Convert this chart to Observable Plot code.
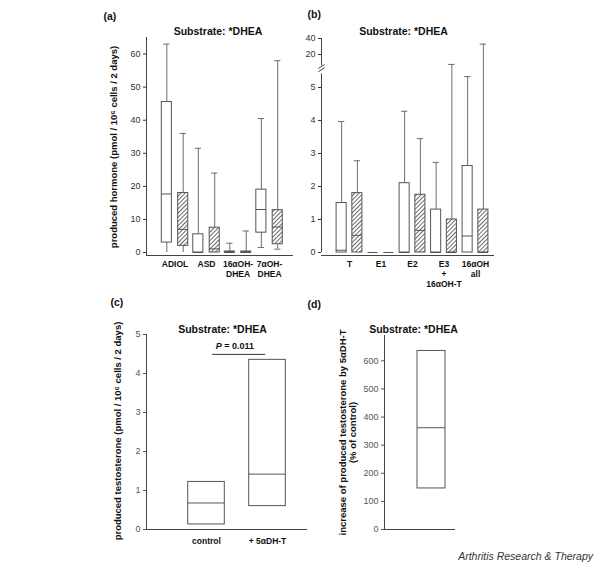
<!DOCTYPE html>
<html><head><meta charset="utf-8">
<script src="https://cdn.jsdelivr.net/npm/d3@7"></script>
<script src="https://cdn.jsdelivr.net/npm/@observablehq/plot@0.6"></script>
<style>
body{margin:0;background:#fff}
#wrap{position:relative;width:600px;height:567px;overflow:hidden;font-family:"Liberation Sans",Arial,sans-serif}
#wrap svg{position:absolute;left:0;top:0}
#cap{position:absolute;right:7px;top:550px;font-style:italic;font-size:10.5px;color:#333}
</style></head><body>
<div id="wrap"><div id="cap">Arthritis Research &amp; Therapy</div></div>
<script>
// ---------- data ----------
// Panel (a): substrate *DHEA, produced hormones
const aGroups = ["ADIOL", "ASD", "16αOH-\nDHEA", "7αOH-\nDHEA"];
const aOpenLow  = [0, 0, 0, 1.5];
const aOpenQ1   = [3, 0, 0, 6];
const aOpenMed  = [17.7, 0, 0, 13];
const aOpenQ3   = [45.5, 5.5, 0.3, 19];
const aOpenHigh = [63, 31.5, 2.8, 40.5];
const aHatchLow  = [0, 0, 0, 1];
const aHatchQ1   = [2, 0, 0, 2.5];
const aHatchMed  = [7, 1.1, 0, 7.7];
const aHatchQ3   = [18, 7.5, 0.3, 12.8];
const aHatchHigh = [36, 24, 6.5, 58];
const aTicks = [0, 10, 20, 30, 40, 50, 60];

// Panel (b)
const bGroups = ["T", "E1", "E2", "E3\n+\n16αOH-T", "16αOH\nall"];
const bOpenLow  = [0, 0, 0, 0, 0];
const bOpenQ1   = [0, 0, 0, 0, 0];
const bOpenMed  = [0.07, 0, 0, 0, 0.5];
const bOpenQ3   = [1.5, 0, 2.1, 1.3, 2.62];
const bOpenHigh = [3.97, 0, 4.28, 2.73, 5.33];
const bHatchLow  = [0, 0, 0, 0, 0];
const bHatchQ1   = [0, 0, 0, 0, 0];
const bHatchMed  = [0.52, 0, 0.67, 0, 0];
const bHatchQ3   = [1.8, 0, 1.75, 1.0, 1.3];
const bHatchHigh = [2.78, 0, 3.45, 7.6, 33];
const bTicks = [0, 1, 2, 3, 4, 5, 20, 40];

// Panel (c)
const cGroups = ["control", "+ 5αDH-T"];
const cQ1  = [0.13, 0.6];
const cMed = [0.68, 1.42];
const cQ3  = [1.22, 4.35];
const cTicks = [0, 1, 2, 3, 4, 5];
const cPValue = "0.011";
const cBracketLevel = 4.49;

// Panel (d)
const dGroups = [""];
const dQ1  = [146];
const dMed = [362];
const dQ3  = [635];
const dTicks = [0, 100, 200, 300, 400, 500, 600];

const title = "Substrate: *DHEA";

// ---------- helpers ----------
const FONT = '"Liberation Sans", Arial, sans-serif';
const HATCH_SENTINEL = "#fefefe";
const BOX = "#555", WHISK = "#6e6e6e";
const wrap = document.getElementById("wrap");
const intFmt = d => String(d);

function boxRows(groups, sets) {
  return groups.flatMap((g, i) => sets.map(s => ({
    group: g, i, kind: s.kind, pos: i + s.offset,
    low: s.low ? s.low[i] : s.q1[i], q1: s.q1[i], med: s.med[i], q3: s.q3[i],
    high: s.high ? s.high[i] : s.q3[i]
  })));
}
function boxMarks(data, hw, cap, t = v => v) {
  return [
    Plot.ruleX(data.filter(d => d.high > d.q3), {x: "pos", y1: d => t(d.q3), y2: d => t(d.high), stroke: WHISK}),
    Plot.ruleY(data.filter(d => d.high > d.q3), {y: d => t(d.high), x1: d => d.pos - cap, x2: d => d.pos + cap, stroke: WHISK}),
    Plot.ruleX(data.filter(d => d.low < d.q1), {x: "pos", y1: d => t(d.low), y2: d => t(d.q1), stroke: WHISK}),
    Plot.ruleY(data.filter(d => d.low < d.q1 && d.low > 0), {y: d => t(d.low), x1: d => d.pos - cap, x2: d => d.pos + cap, stroke: WHISK}),
    Plot.rect(data.filter(d => d.q3 > d.q1 && d.kind === "open"), {x1: d => d.pos - hw, x2: d => d.pos + hw, y1: d => t(d.q1), y2: d => t(d.q3), fill: "white", stroke: BOX}),
    Plot.rect(data.filter(d => d.q3 > d.q1 && d.kind === "hatched"), {x1: d => d.pos - hw, x2: d => d.pos + hw, y1: d => t(d.q1), y2: d => t(d.q3), fill: HATCH_SENTINEL, stroke: BOX}),
    Plot.ruleY(data, {y: d => t(d.med), x1: d => d.pos - hw, x2: d => d.pos + hw, stroke: BOX})
  ];
}
function addHatch(svg, id) {
  const ns = "http://www.w3.org/2000/svg";
  const defs = document.createElementNS(ns, "defs");
  defs.innerHTML = `<pattern id="${id}" patternUnits="userSpaceOnUse" width="3" height="3" patternTransform="rotate(45)"><rect width="3" height="3" fill="white"/><line x1="0.5" y1="0" x2="0.5" y2="3" stroke="#6a6a6a" stroke-width="1"/></pattern>`;
  svg.insertBefore(defs, svg.firstChild);
  svg.querySelectorAll(`[fill="${HATCH_SENTINEL}"]`).forEach(el => el.setAttribute("fill", `url(#${id})`));
}
function panel(opts, color = "#333") {
  const svg = Plot.plot({
    width: 600, height: 567,
    style: {background: "transparent", fontFamily: FONT, fontSize: "9px", color, overflow: "visible", position: "absolute", left: "0px", top: "0px"},
    ...opts
  });
  wrap.appendChild(svg);
  return svg;
}
const txt = (s, o) => Plot.text([s], {text: d => d, fill: "#111", ...o});
const ylab = (s, o) => txt(s, {frameAnchor: "left", rotate: -90, textAnchor: "middle", fontWeight: "bold", fontSize: 9.5, ...o});

// ---------- panel (a) ----------
const aData = boxRows(aGroups, [
  {kind: "open", offset: -0.26, low: aOpenLow, q1: aOpenQ1, med: aOpenMed, q3: aOpenQ3, high: aOpenHigh},
  {kind: "hatched", offset: 0.26, low: aHatchLow, q1: aHatchQ1, med: aHatchMed, q3: aHatchQ3, high: aHatchHigh}
]);
const aSvg = panel({
  marginLeft: 146, marginRight: 307, marginTop: 37, marginBottom: 315,
  x: {domain: [-0.905, 3.76], axis: null},
  y: {domain: [0, 65], ticks: aTicks, tickFormat: intFmt, tickSize: 3, tickPadding: 3, label: null},
  marks: [
    ...boxMarks(aData, 0.16, 0.1),
    Plot.ruleY([0], {dy: 3, stroke: "#444"}),
    Plot.ruleX([-0.905], {insetBottom: -3, stroke: "#444"}),
    Plot.text(aGroups, {x: (d, i) => i, y: 0, text: d => d, dy: 8, lineAnchor: "top", lineHeight: 1.15, fontWeight: "bold", fontSize: 8.5, fill: "#111"}),
    txt(title, {frameAnchor: "top", dx: -2, dy: -10, fontWeight: "bold", fontSize: 10.5}),
    txt("(a)", {frameAnchor: "top-left", dx: -43, dy: -25, textAnchor: "start", fontWeight: "bold", fontSize: 10.5}),
    ylab("produced hormone (pmol / 10⁶ cells / 2 days)", {dx: -33, dy: 2})
  ]
});
addHatch(aSvg, "hatchA");

// ---------- panel (b) ----------
const bBreak = 5.5;
const bF = v => v <= bBreak ? v : 6.0 + (v - 20) * 0.02425; // broken axis: lower linear part, compressed upper part
const bTickMap = new Map(bTicks.map(v => [bF(v), v]));
const bData = boxRows(bGroups, [
  {kind: "open", offset: -0.25, low: bOpenLow, q1: bOpenQ1, med: bOpenMed, q3: bOpenQ3, high: bOpenHigh},
  {kind: "hatched", offset: 0.25, low: bHatchLow, q1: bHatchQ1, med: bHatchMed, q3: bHatchQ3, high: bHatchHigh}
]);
const bX0 = -0.889, bTop = bF(40);
const bSvg = panel({
  marginLeft: 321, marginRight: 106, marginTop: 38, marginBottom: 315,
  x: {domain: [bX0, 4.603], axis: null},
  y: {domain: [0, bTop], ticks: bTicks.map(bF), tickFormat: d => String(bTickMap.get(d)), tickSize: 3, tickPadding: 3, label: null},
  marks: [
    ...boxMarks(bData, 0.16, 0.1, bF),
    Plot.ruleY([0], {dy: 3, stroke: "#444"}),
    Plot.ruleX([{y1: 0, y2: 5.5}], {x: bX0, y1: "y1", y2: "y2", insetBottom: -3, stroke: "#444"}),
    Plot.ruleX([{y1: 5.66, y2: bTop}], {x: bX0, y1: "y1", y2: "y2", stroke: "#444"}),
    Plot.link([0, 1], {x1: bX0 - 0.1, x2: bX0 + 0.1, y1: i => 5.48 + i * 0.1, y2: i => 5.6 + i * 0.1, stroke: "#444"}),
    Plot.text(bGroups, {x: (d, i) => i, y: 0, text: d => d, dy: 8, lineAnchor: "top", lineHeight: 1.15, fontWeight: "bold", fontSize: 8.5, fill: "#111"}),
    txt(title, {frameAnchor: "top", dx: -4.5, dy: -11, fontWeight: "bold", fontSize: 10.5}),
    txt("(b)", {frameAnchor: "top-left", dx: -14, dy: -28, textAnchor: "start", fontWeight: "bold", fontSize: 10.5})
  ]
});
addHatch(bSvg, "hatchB");

// ---------- panel (c) ----------
const cData = boxRows(cGroups, [{kind: "open", offset: 0, q1: cQ1, med: cMed, q3: cQ3}]);
panel({
  marginLeft: 146, marginRight: 293, marginTop: 334, marginBottom: 38,
  x: {domain: [-0.984, 1.656], axis: null},
  y: {domain: [0, 5], ticks: cTicks, tickFormat: intFmt, tickSize: 3, tickPadding: 3, label: null},
  marks: [
    ...boxMarks(cData, 0.3, 0.1),
    Plot.ruleY([0], {stroke: "#444"}),
    Plot.ruleX([-0.984], {stroke: "#444"}),
    Plot.ruleY([cBracketLevel], {x1: 0.1, x2: 0.97, stroke: "#333"}),
    Plot.text(["P"], {x: 0.25, y: cBracketLevel, text: d => d, dy: -8, textAnchor: "end", fontWeight: "bold", fontStyle: "italic", fontSize: 9, fill: "#111"}),
    Plot.text([" = " + cPValue], {x: 0.25, y: cBracketLevel, text: d => d, dy: -8, textAnchor: "start", fontWeight: "bold", fontSize: 9, fill: "#111"}),
    Plot.text(cGroups, {x: (d, i) => i, y: 0, text: d => d, dy: 8, lineAnchor: "top", fontWeight: "bold", fontSize: 8.5, fill: "#111"}),
    txt(title, {frameAnchor: "top", dx: -4.5, dy: -9, fontWeight: "bold", fontSize: 10.5}),
    txt("(c)", {frameAnchor: "top-left", dx: -36, dy: -36, textAnchor: "start", fontWeight: "bold", fontSize: 10.5}),
    ylab("produced testosterone (pmol / 10⁶ cells / 2 days)", {dx: -29, dy: -1})
  ]
}, "#555");

// ---------- panel (d) ----------
const dData = boxRows(dGroups, [{kind: "open", offset: 0.662, q1: dQ1, med: dMed, q3: dQ3}]);
panel({
  marginLeft: 384, marginRight: 145, marginTop: 335, marginBottom: 38,
  x: {domain: [0, 1], axis: null},
  y: {domain: [0, 690], ticks: dTicks, tickFormat: intFmt, tickSize: 3, tickPadding: 3, label: null},
  marks: [
    ...boxMarks(dData, 0.197, 0.1),
    Plot.ruleY([0], {stroke: "#444"}),
    Plot.ruleX([0], {stroke: "#444"}),
    txt(title, {frameAnchor: "top", dx: -6.5, dy: -10, fontWeight: "bold", fontSize: 10.5}),
    txt("(d)", {frameAnchor: "top-left", dx: -77, dy: -35, textAnchor: "start", fontWeight: "bold", fontSize: 10.5}),
    ylab("increase of produced testosterone by 5αDH-T\n(% of control)", {dx: -37, dy: 0, lineHeight: 1.1})
  ]
}, "#555");
</script>
</body></html>
